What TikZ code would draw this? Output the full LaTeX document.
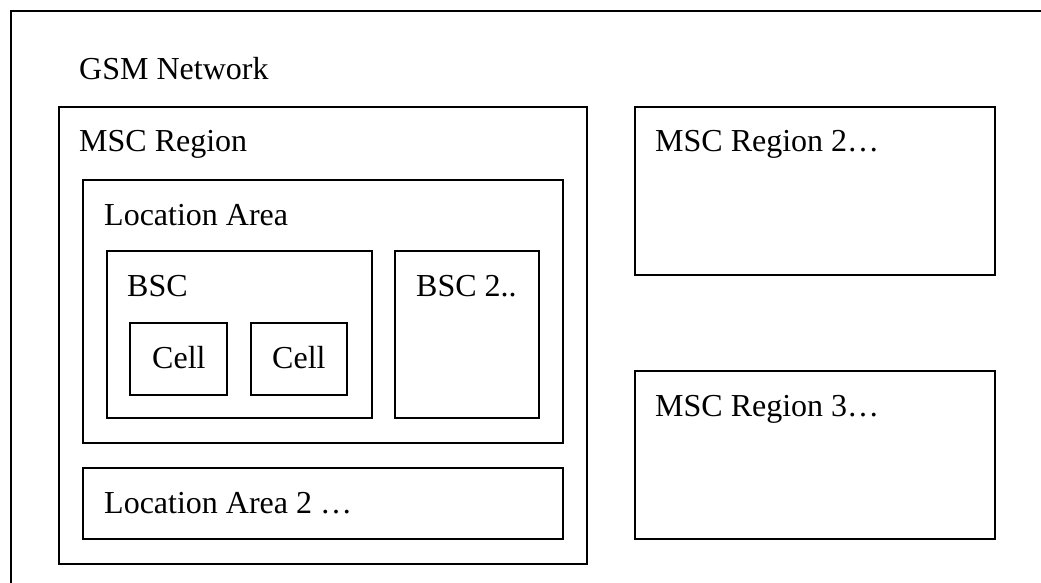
\documentclass[tikz,border=0pt]{standalone}
\usepackage{fontspec}
\setmainfont{Liberation Serif}
\usepackage{tikz}
\tikzset{
	box/.style={line width=1.6pt, color=black},
	lbl/.style={anchor=base west, inner sep=0pt, font=\fontsize{32}{38}\selectfont}
}

\begin{document}
\begin{tikzpicture}[x=1pt, y=-1pt]
			%%%%% START %%%%%
			\useasboundingbox (0, 0) rectangle (1041, 583);
			\fill[white] (0, 0) rectangle (1041, 583);
			
			% network frame, cut off at the right and bottom
			\draw[box] (1041, 11) -- (11, 11) -- (11, 583);
			\node[lbl] (gsm) at (79, 80) {GSM Network};
			
			% first MSC region
			\draw[box] (59, 107) rectangle (587, 564);
			\node[lbl] (msc) at (79, 152) {MSC Region};
			
			\draw[box] (83, 180) rectangle (563, 443);
			\node[lbl] (la) at (104, 225) {Location Area};
			
			\draw[box] (107, 251) rectangle (372, 418);
			\node[lbl] (bsc) at (127, 296) {BSC};
			
			\draw[box] (130, 323) rectangle (227, 395);
			\node[lbl] (cellA) at (152, 368) {Cell};
			\draw[box] (251, 323) rectangle (347, 395);
			\node[lbl] (cellB) at (272, 368) {Cell};
			
			\draw[box] (395, 251) rectangle (539, 418);
			\node[lbl] (bscB) at (416, 296) {BSC 2..};
			
			\draw[box] (83, 468) rectangle (563, 539);
			\node[lbl] (laB) at (104, 513) {Location Area 2 …};
			
			% other MSC regions
			\draw[box] (635, 107) rectangle (995, 275);
			\node[lbl] (mscB) at (655, 152) {MSC Region 2…};
			
			\draw[box] (635, 371) rectangle (995, 539);
			\node[lbl] (mscC) at (655, 416) {MSC Region 3…};
			
			%%%%% END %%%%%
		\end{tikzpicture}
\end{document}
